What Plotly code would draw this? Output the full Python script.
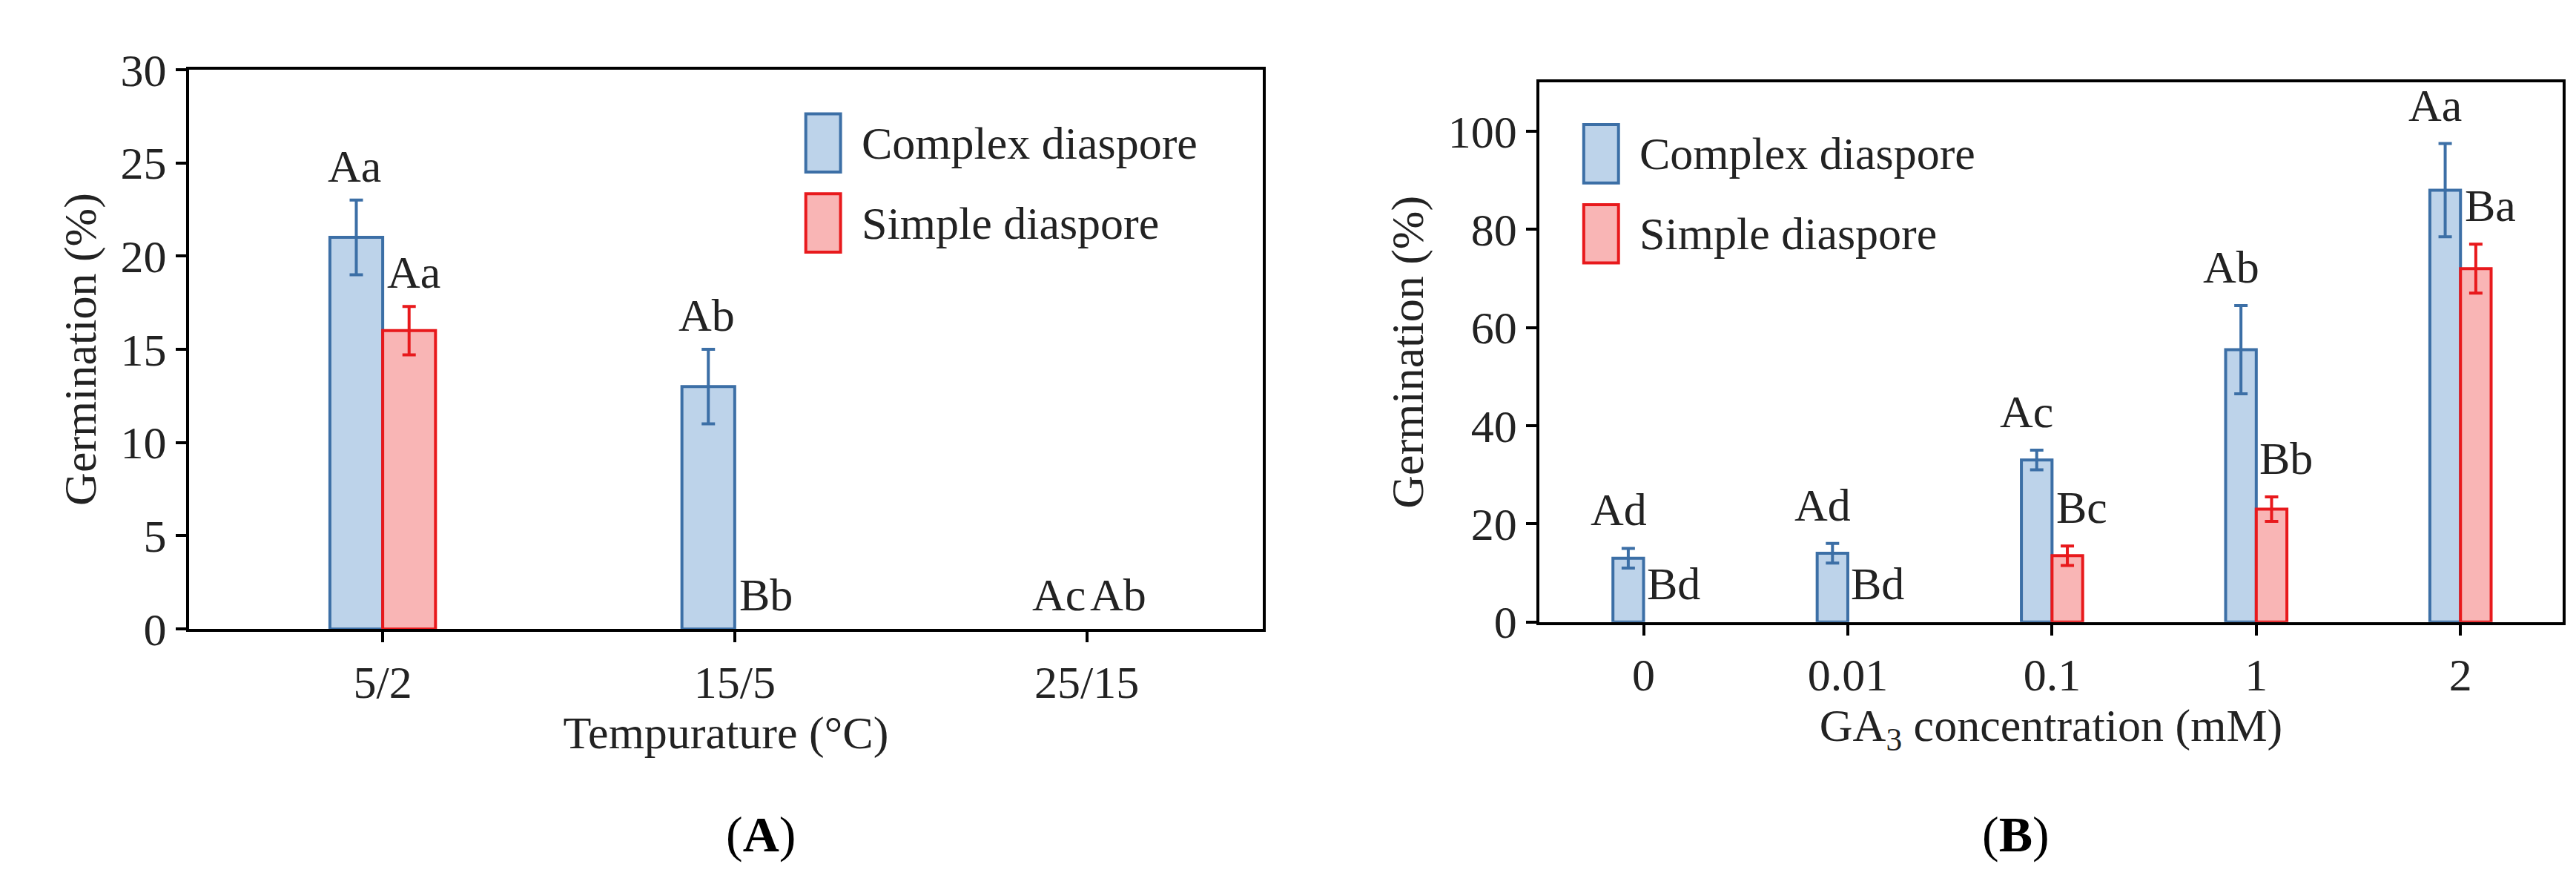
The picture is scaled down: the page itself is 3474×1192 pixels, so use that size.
import plotly.graph_objects as go

temp_cats = ["5/2", "15/5", "25/15"]
temp_complex = [21, 13, 0]
temp_complex_err = [2, 2, 0]
temp_simple = [16, 0, 0]
temp_simple_err = [1.3, 0, 0]
temp_complex_lbl = ["Aa", "Ab", "Ac"]
temp_simple_lbl = ["Aa", "Bb", "Ab"]

ga_cats = ["0", "0.01", "0.1", "1", "2"]
ga_complex = [13, 14, 33, 55.5, 88]
ga_complex_err = [2, 2, 2, 9, 9.5]
ga_simple = [0, 0, 13.5, 23, 72]
ga_simple_err = [0, 0, 2, 2.5, 5]
ga_complex_lbl = ["Ad", "Ad", "Ac", "Ab", "Aa"]
ga_simple_lbl = ["Bd", "Bd", "Bc", "Bb", "Ba"]

series_names = ["Complex diaspore", "Simple diaspore"]

BLUE_F, BLUE_L = "#bdd3ea", "#3c6fa6"
RED_F, RED_L = "#f9b5b5", "#e8191c"
FONT = "Liberation Serif"
FS = 62

fig = go.Figure()

def add_bars(cats, vals, errs, name, fill, line, xa, ya, offset):
    fig.add_trace(go.Bar(
        x=list(range(len(cats))), y=[v if v else None for v in vals], name=name,
        xaxis=xa, yaxis=ya, showlegend=False,
        marker=dict(color=fill, line=dict(color=line, width=4)),
        error_y=dict(type="data", array=errs, color=line, thickness=4, width=9),
        offsetgroup=offset,
    ))

add_bars(temp_cats, temp_complex, temp_complex_err, series_names[0], BLUE_F, BLUE_L, "x", "y", "c")
add_bars(temp_cats, temp_simple, temp_simple_err, series_names[1], RED_F, RED_L, "x", "y", "s")
add_bars(ga_cats, ga_complex, ga_complex_err, series_names[0], BLUE_F, BLUE_L, "x2", "y2", "c")
add_bars(ga_cats, ga_simple, ga_simple_err, series_names[1], RED_F, RED_L, "x2", "y2", "s")

anns = []
def labels(vals, errs, lbls, xref, yref, shift, ys):
    for i, (v, e, t) in enumerate(zip(vals, errs, lbls)):
        anns.append(dict(x=i, y=v + e, xref=xref, yref=yref, text=t,
                         showarrow=False, yanchor="bottom", xshift=shift, yshift=ys,
                         font=dict(family=FONT, size=FS, color="#222")))

labels(temp_complex, temp_complex_err, temp_complex_lbl, "x", "y", -38, 10)
labels(temp_simple, temp_simple_err, temp_simple_lbl, "x", "y", 42, 10)
labels(ga_complex, ga_complex_err, ga_complex_lbl, "x2", "y2", -34, 16)
labels(ga_simple, ga_simple_err, ga_simple_lbl, "x2", "y2", 40, 16)

anns.append(dict(x=0.2790, y=0.0, xref="paper", yref="paper", text="(<b>A</b>)", showarrow=False,
                 yanchor="bottom", font=dict(family=FONT, size=68, color="black")))
anns.append(dict(x=0.7939, y=0.0, xref="paper", yref="paper", text="(<b>B</b>)", showarrow=False,
                 yanchor="bottom", font=dict(family=FONT, size=68, color="black")))

# manual legends (paper coordinates)
shapes = []
def legend(x0, ytop, dy):
    for k, (nm, f, l) in enumerate(zip(series_names, [BLUE_F, RED_F], [BLUE_L, RED_L])):
        yc = ytop - k * dy
        shapes.append(dict(type="rect", xref="paper", yref="paper", x0=x0, x1=x0 + 0.0135,
                           y0=yc - 0.035, y1=yc + 0.035, fillcolor=f, line=dict(color=l, width=4)))
        anns.append(dict(x=x0 + 0.021, y=yc, xref="paper", yref="paper", text=nm, showarrow=False,
                         xanchor="left", yanchor="middle", font=dict(family=FONT, size=FS, color="#222")))

legend(0.3105, 0.865, 0.096)
legend(0.6125, 0.852, 0.096)

axis_common = dict(showline=True, linecolor="black", linewidth=4, mirror=True, ticks="outside",
                   tickwidth=4, ticklen=14, tickcolor="black", showgrid=False, zeroline=False,
                   tickfont=dict(family=FONT, size=FS, color="#222"),
                   title_font=dict(family=FONT, size=FS, color="#222"))

fig.update_layout(
    width=3474, height=1192, margin=dict(l=0, r=0, t=0, b=0),
    paper_bgcolor="white", plot_bgcolor="white",
    barmode="group", bargap=0.7, bargroupgap=0,
    showlegend=False,
    xaxis=dict(domain=[0.0711, 0.4879], range=[-0.55, 2.5], title_text="Tempurature (°C)",
               tickvals=list(range(len(temp_cats))), ticktext=temp_cats,
               title_standoff=8, anchor="y", **axis_common),
    yaxis=dict(domain=[0.2819, 0.953], range=[0, 30], dtick=5, title_text="Germination (%)",
               title_standoff=14, anchor="x", **axis_common),
    xaxis2=dict(domain=[0.5953, 0.9925], range=[-0.51, 4.5], title_text="GA<sub>3</sub> concentration (mM)",
                tickvals=list(range(len(ga_cats))), ticktext=ga_cats,
                title_standoff=8, anchor="y2", **axis_common),
    yaxis2=dict(domain=[0.2903, 0.9379], range=[0, 110], dtick=20, title_text="Germination (%)",
                title_standoff=14, anchor="x2", **axis_common),
    annotations=anns, shapes=shapes,
)
fig.write_html("out.html")
